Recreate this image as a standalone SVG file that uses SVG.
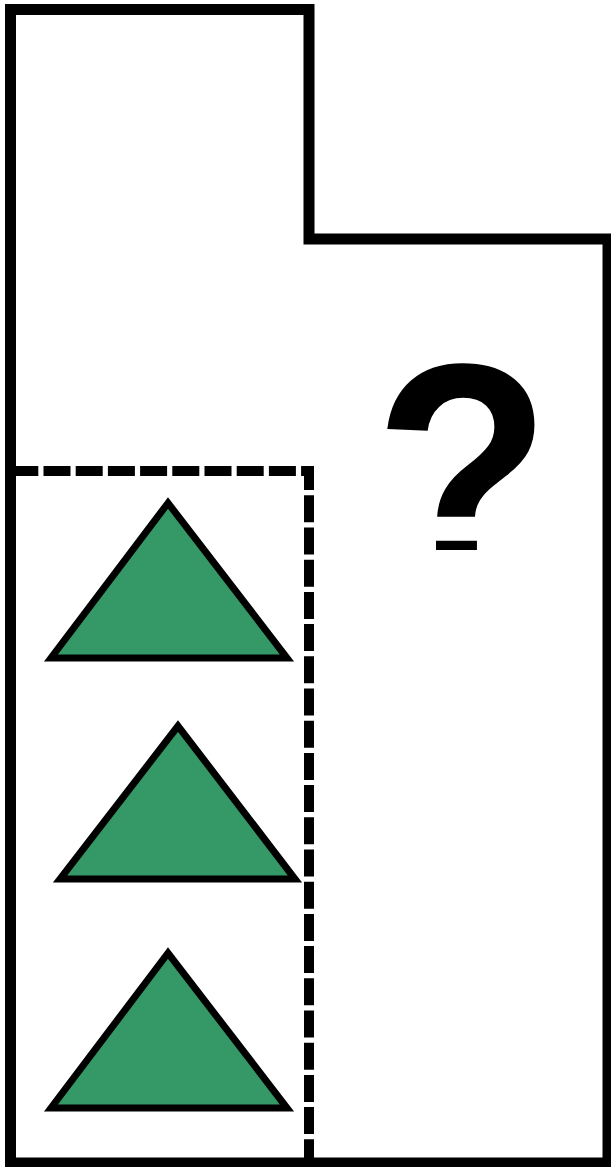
<svg xmlns="http://www.w3.org/2000/svg" width="611" height="1167" viewBox="0 0 611 1167">
  <style>
    .outline { fill: none; stroke: #000; stroke-width: 11; stroke-linejoin: miter; }
    .dashed { fill: none; stroke: #000; stroke-width: 10; stroke-dasharray: 27 5.2; stroke-dashoffset: 3.7; }
    .tri { fill: #349966; stroke: #000; stroke-width: 7; stroke-linejoin: miter; stroke-miterlimit: 10; }
    .q { font-family: "Liberation Sans", Arial, sans-serif; font-weight: bold; font-size: 290px; fill: #000; }
  </style>
  <defs>
    <clipPath id="qclip">
      <rect x="320" y="250" width="280" height="300"/>
    </clipPath>
  </defs>
  <rect x="0" y="0" width="611" height="1167" fill="#fff"/>
  <g id="outline">
    <path class="outline" d="M10.5,9.5 H309 V239 H608 V1163 H10.5 Z"/>
  </g>
  <g id="dashed-region">
    <path class="dashed" d="M15,471 H309 V1163"/>
  </g>
  <g id="triangle-1">
    <polygon class="tri" points="168,503 51,658 287,658"/>
  </g>
  <g id="triangle-2">
    <polygon class="tri" points="178,726 60,879 295,879"/>
  </g>
  <g id="triangle-3">
    <polygon class="tri" points="168,953 51,1108 287,1108"/>
  </g>
  <g id="question" clip-path="url(#qclip)">
    <text class="q" x="0" y="0" transform="translate(374,582) scale(1,1.08)">?</text>
  </g>
</svg>
